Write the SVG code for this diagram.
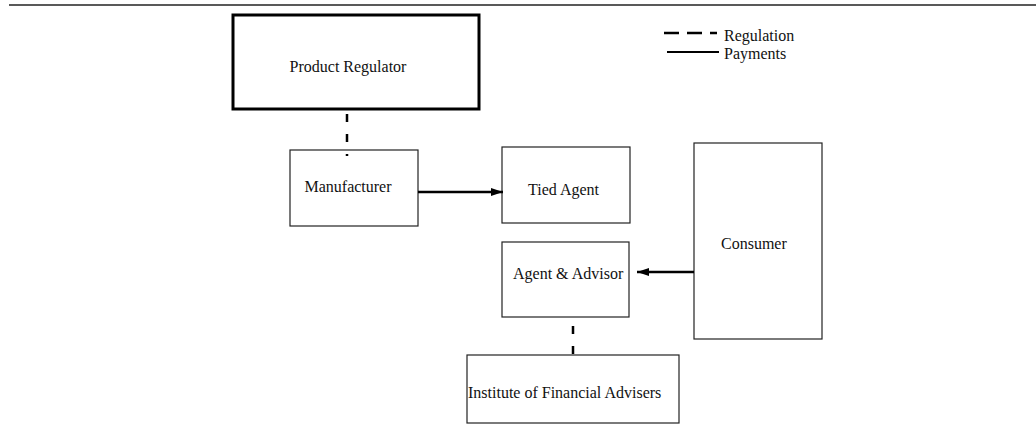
<svg xmlns="http://www.w3.org/2000/svg" width="1036" height="425" viewBox="0 0 1036 425">
<style>
text{font-family:"Liberation Serif","Times New Roman",serif;font-size:16px;fill:#111}
.box{fill:#fff;stroke:#222;stroke-width:1.2}
.thick{fill:#fff;stroke:#000;stroke-width:3}
.reg{stroke:#000;stroke-width:2.5;stroke-dasharray:8 12;fill:none}
.pay{stroke:#000;stroke-width:2.5;fill:none}
</style>
<defs>
<marker id="ah" viewBox="0 0 12 8" refX="12" refY="4" markerWidth="12" markerHeight="8" markerUnits="userSpaceOnUse" orient="auto">
<path d="M0,0 L12,4 L0,8 Z" fill="#000"/>
</marker>
</defs>
<line x1="9" y1="5" x2="1036" y2="5" stroke="#222" stroke-width="1.5"/>
<g id="legend">
<line x1="664" y1="33" x2="717" y2="33" stroke="#000" stroke-width="2.5" stroke-dasharray="15 8"/>
<text x="724" y="41">Regulation</text>
<line x1="667" y1="52" x2="719" y2="52" stroke="#000" stroke-width="2"/>
<text x="724" y="59">Payments</text>
</g>
<g id="product-regulator">
<rect class="thick" x="233" y="15" width="246" height="94"/>
<text x="348" y="72" text-anchor="middle">Product Regulator</text>
</g>
<g id="manufacturer">
<rect class="box" x="290" y="150" width="128" height="76"/>
<text x="348" y="192" text-anchor="middle">Manufacturer</text>
</g>
<g id="tied-agent">
<rect class="box" x="502" y="147" width="128" height="76"/>
<text x="528" y="195">Tied Agent</text>
</g>
<g id="consumer">
<rect class="box" x="694" y="143" width="128" height="196"/>
<text x="721" y="249">Consumer</text>
</g>
<g id="agent-advisor">
<rect class="box" x="502" y="242" width="127" height="75"/>
<text x="513" y="279">Agent &amp; Advisor</text>
</g>
<g id="institute">
<rect class="box" x="467" y="355" width="212" height="68"/>
<text x="468" y="398">Institute of Financial Advisers</text>
</g>
<g id="connectors">
<line class="reg" x1="347" y1="114" x2="347" y2="156"/>
<line class="pay" x1="418" y1="192" x2="503" y2="192" marker-end="url(#ah)"/>
<line class="pay" x1="694" y1="272" x2="637" y2="272" marker-end="url(#ah)"/>
<line class="reg" x1="573" y1="326" x2="573" y2="354" stroke-dasharray="8 10"/>
</g>
</svg>
